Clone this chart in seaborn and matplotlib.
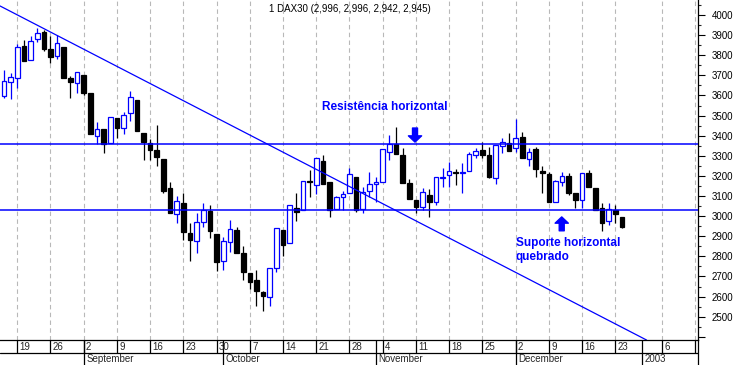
import matplotlib
matplotlib.use("Agg")
import matplotlib.pyplot as plt
from matplotlib.ticker import MultipleLocator
import numpy as np
import seaborn as sns

# DAX30 daily candles, 15 Aug 2002 .. 27 Dec 2002 (x = trading day index)
opens = [3597, 3668, 3685, 3846, 3776, 3879, 3914, 3831, 3796, 3842,
         3685, 3660, 3702, 3611, 3400, 3432, 3365, 3486, 3440, 3511,
         3577, 3415, 3365, 3329, 3284, 3141, 3009, 3064, 2914, 2878,
         2969, 3027, 2911, 2778, 2873, 2931, 2815, 2716, 2682, 2623,
         2599, 2740, 2931, 2865, 3042, 3030, 3176, 3155, 3274, 3168,
         3033, 3097, 3113, 3193, 3034, 3125, 3160, 3171, 3320, 3357,
         3304, 3163, 3080, 3047, 3105, 3070, 3188, 3203, 3218, 3213,
         3223, 3305, 3329, 3304, 3188, 3350, 3362, 3337, 3395, 3282,
         3332, 3224, 3209, 3068, 3171, 3199, 3116, 3080, 3216, 3138,
         3039, 2976, 3030, 2996]
highs = [3726, 3710, 3856, 3876, 3897, 3934, 3925, 3897, 3901, 3842,
         3697, 3718, 3702, 3611, 3466, 3432, 3491, 3486, 3519, 3624,
         3577, 3415, 3382, 3453, 3284, 3171, 3100, 3113, 2964, 3014,
         3064, 3055, 2911, 2898, 2981, 2944, 2851, 2716, 2732, 2628,
         2740, 2939, 2931, 3054, 3113, 3176, 3229, 3287, 3304, 3168,
         3100, 3125, 3241, 3193, 3146, 3221, 3196, 3332, 3403, 3445,
         3337, 3183, 3080, 3138, 3133, 3196, 3238, 3268, 3233, 3263,
         3317, 3337, 3367, 3342, 3354, 3387, 3412, 3481, 3420, 3337,
         3345, 3249, 3221, 3180, 3221, 3213, 3116, 3213, 3229, 3138,
         3064, 3064, 3055, 2996]
lows = [3586, 3582, 3635, 3773, 3776, 3864, 3822, 3760, 3780, 3688,
        3589, 3614, 3602, 3407, 3359, 3312, 3365, 3387, 3407, 3474,
        3425, 3279, 3279, 3251, 3113, 3017, 2967, 2881, 2778, 2815,
        2947, 2890, 2729, 2732, 2823, 2818, 2682, 2636, 2553, 2530,
        2554, 2724, 2802, 2865, 2976, 3030, 3094, 3110, 3160, 2994,
        3033, 3030, 3113, 3022, 3014, 3097, 3072, 3171, 3279, 3307,
        3163, 3084, 3014, 3030, 2997, 3055, 3146, 3146, 3155, 3113,
        3223, 3287, 3287, 3191, 3160, 3312, 3325, 3320, 3287, 3249,
        3196, 3116, 3072, 3068, 3150, 3106, 3039, 3039, 3146, 3030,
        2927, 2956, 2967, 2942]
closes = [3672, 3690, 3839, 3773, 3872, 3909, 3831, 3790, 3859, 3688,
          3667, 3718, 3614, 3407, 3432, 3359, 3491, 3437, 3503, 3591,
          3425, 3367, 3327, 3295, 3125, 3017, 3074, 2922, 2881, 2969,
          3030, 2927, 2773, 2875, 2934, 2818, 2723, 2674, 2629, 2604,
          2740, 2939, 2856, 3054, 3019, 3176, 3168, 3287, 3160, 3030,
          3097, 3108, 3208, 3030, 3121, 3158, 3170, 3332, 3357, 3307,
          3163, 3084, 3044, 3121, 3072, 3196, 3196, 3223, 3214, 3221,
          3309, 3322, 3305, 3196, 3354, 3367, 3325, 3387, 3287, 3320,
          3233, 3216, 3072, 3175, 3199, 3116, 3080, 3213, 3146, 3030,
          2967, 3034, 3009, 2945]

week_idx = [2, 7, 12, 17, 22, 27, 32, 37, 42, 47, 52, 57, 62, 67, 72, 77, 82, 87, 92, 99, 104]
week_lab = ['19', '26', '2', '9', '16', '23', '30', '7', '14', '21', '28',
            '4', '11', '18', '25', '2', '9', '16', '23', '6', '13']
month_idx = [12, 33, 56, 77, 96]
month_lab = ['September', 'October', 'November', 'December', '2003']

resistance = 3357
support = 3029
trend_idx = [-0.6, 96.7]
trend_val = [4045, 2384]

title = "1 DAX30 (2,996, 2,996, 2,942, 2,945)"

sns.set_style("white")
plt.rcParams['font.family'] = ['Liberation Sans', 'DejaVu Sans']

BLUE = '#0000ff'
W, H = 738, 365
fig = plt.figure(figsize=(W / 100, H / 100), dpi=100)
ax = fig.add_axes([0, 25 / H, 698 / W, 340 / H])
axb = fig.add_axes([0, 0, 698 / W, 25 / H], sharex=ax)

x = np.arange(len(opens))
o = np.array(opens)
c = np.array(closes)
up = c >= o

# weekly dashed grid
for w in week_idx:
    ax.axvline(w, color='#b8b8b8', lw=0.8, ls=(0, (4, 3)), zorder=0)

# wicks
ax.vlines(x[up], np.array(lows)[up], np.array(highs)[up], color=BLUE, lw=0.9, zorder=2)
ax.vlines(x[~up], np.array(lows)[~up], np.array(highs)[~up], color='black', lw=0.9, zorder=2)

# bodies
ax.bar(x[up], (c - o)[up], bottom=o[up], width=0.7, facecolor='white',
       edgecolor=BLUE, linewidth=0.9, zorder=3)
ax.bar(x[~up], (c - o)[~up], bottom=o[~up], width=0.7, facecolor='black',
       edgecolor='black', linewidth=0.9, zorder=3)

# support / resistance / trend
ax.axhline(resistance, color=BLUE, lw=1.1, zorder=4)
ax.axhline(support, color=BLUE, lw=1.1, zorder=4)
sns.lineplot(x=trend_idx, y=trend_val, ax=ax, color=BLUE, lw=0.9, zorder=4)

ax.set_xlim(-0.6, 104.45)
ax.set_ylim(2384, 4074.6)

# annotations
ax.text(57.34, 3542, 'Resistência horizontal', ha='center', va='center',
        color=BLUE, fontsize=8.5, fontweight='bold')
ax.annotate('', xy=(61.86, 3368), xytext=(61.86, 3438),
            arrowprops=dict(arrowstyle='simple,head_width=0.95,head_length=0.45,tail_width=0.36',
                            color=BLUE, mutation_scale=10, shrinkA=0, shrinkB=0))
ax.text(77.0, 2830, 'Suporte horizontal\nquebrado', ha='left', va='center',
        color=BLUE, fontsize=8.5, fontweight='bold', linespacing=1.2)
ax.annotate('', xy=(83.94, 2996), xytext=(83.94, 2927),
            arrowprops=dict(arrowstyle='simple,head_width=0.95,head_length=0.45,tail_width=0.36',
                            color=BLUE, mutation_scale=10, shrinkA=0, shrinkB=0))

fig.text(350 / W, 1 - 8.5 / H, title, ha='center', va='center', fontsize=7, color='black')

# right price axis
ax.yaxis.tick_right()
yt = list(range(2400, 4001, 100))
ax.set_yticks(yt)
ax.set_yticklabels(['' if v == 2400 else str(v) for v in yt])
ax.yaxis.set_minor_locator(MultipleLocator(50))
ax.tick_params(axis='y', which='major', direction='out', length=5, width=0.8,
               pad=5, labelsize=7, colors='black', right=True, left=False)
ax.tick_params(axis='y', which='minor', direction='out', length=2.5, width=0.8,
               right=True, left=False)
ax.tick_params(axis='x', bottom=False, labelbottom=False)
for s in ['top', 'left', 'bottom']:
    ax.spines[s].set_visible(False)
ax.spines['right'].set_color('black')
ax.spines['right'].set_linewidth(0.9)

# date axis: day row and month row
axb.set_ylim(0, 25)
axb.set_yticks([])
axb.tick_params(axis='x', bottom=False, labelbottom=False)
for s in ['left', 'bottom']:
    axb.spines[s].set_visible(False)
for s in ['top', 'right']:
    axb.spines[s].set_color('black')
    axb.spines[s].set_linewidth(0.9)
axb.axhline(12, color='black', lw=0.9)
axb.vlines(week_idx, 12, 25, color='black', lw=0.9)
axb.vlines(month_idx, 0, 25, color='black', lw=0.9)
for w, lab in zip(week_idx, week_lab):
    axb.text(w + 0.35, 18.5, lab, ha='left', va='center', fontsize=7, clip_on=True)
for m, lab in zip(month_idx, month_lab):
    axb.text(m + 0.4, 6, lab, ha='left', va='center', fontsize=7, clip_on=True)

fig.savefig('out.png', dpi=100)
